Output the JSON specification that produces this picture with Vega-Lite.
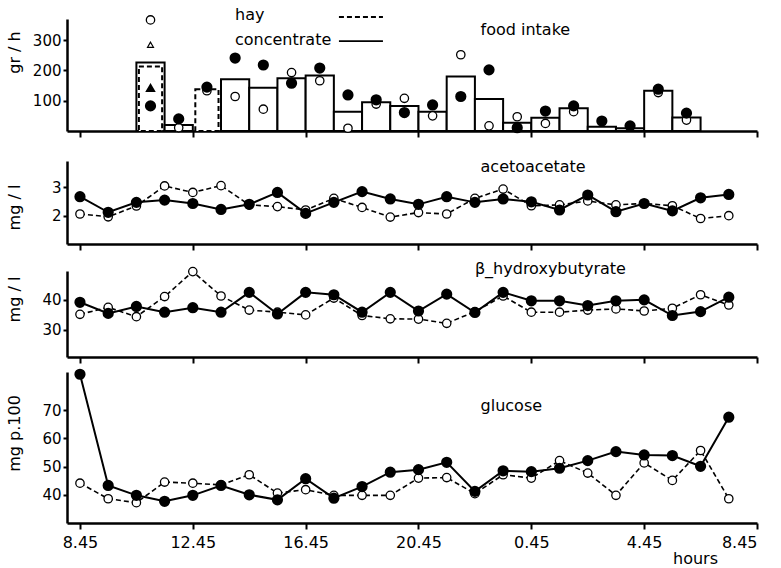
{
  "$schema": "https://vega.github.io/schema/vega-lite/v6.json",
  "padding": {"left": 6, "top": 7, "right": 5, "bottom": 5},
  "background": "white",
  "config": {
    "font": "DejaVu Sans",
    "view": {"stroke": null},
    "axis": {"domainColor": "black", "domainWidth": 2.5, "tickColor": "black", "tickWidth": 2, "grid": false, "labelColor": "black", "labelFont": "DejaVu Sans", "labelFontSize": 15, "titleColor": "black", "titleFont": "DejaVu Sans", "titleFontSize": 16, "titleFontWeight": "normal"},
    "axisX": {"tickSize": 6, "labels": false},
    "axisY": {"tickSize": 4, "labelPadding": 2, "titleAngle": 270, "titleX": -53, "titleAlign": "center", "titleBaseline": "middle"},
    "point": {"opacity": 1, "filled": true}
  },
  "datasets": {
    "intake": [
      {"feed": "concentrate", "start": 2, "end": 3, "value": 226},
      {"feed": "concentrate", "start": 3, "end": 4, "value": 20},
      {"feed": "concentrate", "start": 5, "end": 6, "value": 171},
      {"feed": "concentrate", "start": 6, "end": 7, "value": 143},
      {"feed": "concentrate", "start": 7, "end": 8, "value": 174},
      {"feed": "concentrate", "start": 8, "end": 9, "value": 183},
      {"feed": "concentrate", "start": 9, "end": 10, "value": 64},
      {"feed": "concentrate", "start": 10, "end": 11, "value": 95},
      {"feed": "concentrate", "start": 11, "end": 12, "value": 83},
      {"feed": "concentrate", "start": 12, "end": 13, "value": 64},
      {"feed": "concentrate", "start": 13, "end": 14, "value": 180},
      {"feed": "concentrate", "start": 14, "end": 15, "value": 106},
      {"feed": "concentrate", "start": 15, "end": 16, "value": 27},
      {"feed": "concentrate", "start": 16, "end": 17, "value": 44},
      {"feed": "concentrate", "start": 17, "end": 18, "value": 75},
      {"feed": "concentrate", "start": 18, "end": 19, "value": 14},
      {"feed": "concentrate", "start": 19, "end": 20, "value": 9},
      {"feed": "concentrate", "start": 20, "end": 21, "value": 133},
      {"feed": "concentrate", "start": 21, "end": 22, "value": 45},
      {"feed": "hay", "start": 2, "end": 3, "value": 213},
      {"feed": "hay", "start": 4, "end": 5, "value": 138}
    ],
    "intakePoints": [
      {"kind": "open", "time": 2.5, "value": 367},
      {"kind": "open", "time": 3.5, "value": 11},
      {"kind": "open", "time": 4.5, "value": 133},
      {"kind": "open", "time": 5.5, "value": 114},
      {"kind": "open", "time": 6.5, "value": 72},
      {"kind": "open", "time": 7.5, "value": 193},
      {"kind": "open", "time": 8.5, "value": 166},
      {"kind": "open", "time": 9.5, "value": 9},
      {"kind": "open", "time": 10.5, "value": 89},
      {"kind": "open", "time": 11.5, "value": 108},
      {"kind": "open", "time": 12.5, "value": 50},
      {"kind": "open", "time": 13.5, "value": 252},
      {"kind": "open", "time": 14.5, "value": 17},
      {"kind": "open", "time": 15.5, "value": 47},
      {"kind": "open", "time": 16.5, "value": 25},
      {"kind": "open", "time": 17.5, "value": 64},
      {"kind": "open", "time": 20.5, "value": 127},
      {"kind": "open", "time": 21.5, "value": 36},
      {"kind": "filled", "time": 2.5, "value": 83},
      {"kind": "filled", "time": 3.5, "value": 40},
      {"kind": "filled", "time": 4.5, "value": 145},
      {"kind": "filled", "time": 5.5, "value": 241},
      {"kind": "filled", "time": 6.5, "value": 218},
      {"kind": "filled", "time": 7.5, "value": 158},
      {"kind": "filled", "time": 8.5, "value": 208},
      {"kind": "filled", "time": 9.5, "value": 119},
      {"kind": "filled", "time": 10.5, "value": 103},
      {"kind": "filled", "time": 11.5, "value": 61},
      {"kind": "filled", "time": 12.5, "value": 86},
      {"kind": "filled", "time": 13.5, "value": 114},
      {"kind": "filled", "time": 14.5, "value": 202},
      {"kind": "filled", "time": 15.5, "value": 11},
      {"kind": "filled", "time": 16.5, "value": 66},
      {"kind": "filled", "time": 17.5, "value": 83},
      {"kind": "filled", "time": 18.5, "value": 33},
      {"kind": "filled", "time": 19.5, "value": 17},
      {"kind": "filled", "time": 20.5, "value": 138},
      {"kind": "filled", "time": 21.5, "value": 59},
      {"kind": "openTriangle", "time": 2.5, "value": 285},
      {"kind": "filledTriangle", "time": 2.5, "value": 142}
    ],
    "metab": [
      {"metric": "acetoacetate", "series": "filled", "hour": 0, "value": 2.67},
      {"metric": "acetoacetate", "series": "filled", "hour": 1, "value": 2.12},
      {"metric": "acetoacetate", "series": "filled", "hour": 2, "value": 2.47},
      {"metric": "acetoacetate", "series": "filled", "hour": 3, "value": 2.55},
      {"metric": "acetoacetate", "series": "filled", "hour": 4, "value": 2.43},
      {"metric": "acetoacetate", "series": "filled", "hour": 5, "value": 2.22},
      {"metric": "acetoacetate", "series": "filled", "hour": 6, "value": 2.4},
      {"metric": "acetoacetate", "series": "filled", "hour": 7, "value": 2.82},
      {"metric": "acetoacetate", "series": "filled", "hour": 8, "value": 2.08},
      {"metric": "acetoacetate", "series": "filled", "hour": 9, "value": 2.47},
      {"metric": "acetoacetate", "series": "filled", "hour": 10, "value": 2.85},
      {"metric": "acetoacetate", "series": "filled", "hour": 11, "value": 2.59},
      {"metric": "acetoacetate", "series": "filled", "hour": 12, "value": 2.4},
      {"metric": "acetoacetate", "series": "filled", "hour": 13, "value": 2.67},
      {"metric": "acetoacetate", "series": "filled", "hour": 14, "value": 2.47},
      {"metric": "acetoacetate", "series": "filled", "hour": 15, "value": 2.59},
      {"metric": "acetoacetate", "series": "filled", "hour": 16, "value": 2.49},
      {"metric": "acetoacetate", "series": "filled", "hour": 17, "value": 2.2},
      {"metric": "acetoacetate", "series": "filled", "hour": 18, "value": 2.73},
      {"metric": "acetoacetate", "series": "filled", "hour": 19, "value": 2.14},
      {"metric": "acetoacetate", "series": "filled", "hour": 20, "value": 2.43},
      {"metric": "acetoacetate", "series": "filled", "hour": 21, "value": 2.17},
      {"metric": "acetoacetate", "series": "filled", "hour": 22, "value": 2.63},
      {"metric": "acetoacetate", "series": "filled", "hour": 23, "value": 2.75},
      {"metric": "acetoacetate", "series": "open", "hour": 0, "value": 2.06},
      {"metric": "acetoacetate", "series": "open", "hour": 1, "value": 1.96},
      {"metric": "acetoacetate", "series": "open", "hour": 2, "value": 2.34},
      {"metric": "acetoacetate", "series": "open", "hour": 3, "value": 3.05},
      {"metric": "acetoacetate", "series": "open", "hour": 4, "value": 2.82},
      {"metric": "acetoacetate", "series": "open", "hour": 5, "value": 3.06},
      {"metric": "acetoacetate", "series": "open", "hour": 6, "value": 2.38},
      {"metric": "acetoacetate", "series": "open", "hour": 7, "value": 2.32},
      {"metric": "acetoacetate", "series": "open", "hour": 8, "value": 2.2},
      {"metric": "acetoacetate", "series": "open", "hour": 9, "value": 2.61},
      {"metric": "acetoacetate", "series": "open", "hour": 10, "value": 2.29},
      {"metric": "acetoacetate", "series": "open", "hour": 11, "value": 1.95},
      {"metric": "acetoacetate", "series": "open", "hour": 12, "value": 2.11},
      {"metric": "acetoacetate", "series": "open", "hour": 13, "value": 2.06},
      {"metric": "acetoacetate", "series": "open", "hour": 14, "value": 2.61},
      {"metric": "acetoacetate", "series": "open", "hour": 15, "value": 2.94},
      {"metric": "acetoacetate", "series": "open", "hour": 16, "value": 2.35},
      {"metric": "acetoacetate", "series": "open", "hour": 17, "value": 2.38},
      {"metric": "acetoacetate", "series": "open", "hour": 18, "value": 2.52},
      {"metric": "acetoacetate", "series": "open", "hour": 19, "value": 2.38},
      {"metric": "acetoacetate", "series": "open", "hour": 20, "value": 2.43},
      {"metric": "acetoacetate", "series": "open", "hour": 21, "value": 2.35},
      {"metric": "acetoacetate", "series": "open", "hour": 22, "value": 1.9},
      {"metric": "acetoacetate", "series": "open", "hour": 23, "value": 2.0},
      {"metric": "hydroxybutyrate", "series": "filled", "hour": 0, "value": 39.2},
      {"metric": "hydroxybutyrate", "series": "filled", "hour": 1, "value": 35.5},
      {"metric": "hydroxybutyrate", "series": "filled", "hour": 2, "value": 37.8},
      {"metric": "hydroxybutyrate", "series": "filled", "hour": 3, "value": 35.9},
      {"metric": "hydroxybutyrate", "series": "filled", "hour": 4, "value": 37.4},
      {"metric": "hydroxybutyrate", "series": "filled", "hour": 5, "value": 35.9},
      {"metric": "hydroxybutyrate", "series": "filled", "hour": 6, "value": 42.5},
      {"metric": "hydroxybutyrate", "series": "filled", "hour": 7, "value": 35.3},
      {"metric": "hydroxybutyrate", "series": "filled", "hour": 8, "value": 42.5},
      {"metric": "hydroxybutyrate", "series": "filled", "hour": 9, "value": 41.7},
      {"metric": "hydroxybutyrate", "series": "filled", "hour": 10, "value": 35.9},
      {"metric": "hydroxybutyrate", "series": "filled", "hour": 11, "value": 42.5},
      {"metric": "hydroxybutyrate", "series": "filled", "hour": 12, "value": 36.3},
      {"metric": "hydroxybutyrate", "series": "filled", "hour": 13, "value": 41.9},
      {"metric": "hydroxybutyrate", "series": "filled", "hour": 14, "value": 35.8},
      {"metric": "hydroxybutyrate", "series": "filled", "hour": 15, "value": 42.5},
      {"metric": "hydroxybutyrate", "series": "filled", "hour": 16, "value": 39.7},
      {"metric": "hydroxybutyrate", "series": "filled", "hour": 17, "value": 39.7},
      {"metric": "hydroxybutyrate", "series": "filled", "hour": 18, "value": 38.1},
      {"metric": "hydroxybutyrate", "series": "filled", "hour": 19, "value": 39.7},
      {"metric": "hydroxybutyrate", "series": "filled", "hour": 20, "value": 40.0},
      {"metric": "hydroxybutyrate", "series": "filled", "hour": 21, "value": 34.8},
      {"metric": "hydroxybutyrate", "series": "filled", "hour": 22, "value": 36.1},
      {"metric": "hydroxybutyrate", "series": "filled", "hour": 23, "value": 40.9},
      {"metric": "hydroxybutyrate", "series": "open", "hour": 0, "value": 35.2},
      {"metric": "hydroxybutyrate", "series": "open", "hour": 1, "value": 37.5},
      {"metric": "hydroxybutyrate", "series": "open", "hour": 2, "value": 34.4},
      {"metric": "hydroxybutyrate", "series": "open", "hour": 3, "value": 41.1},
      {"metric": "hydroxybutyrate", "series": "open", "hour": 4, "value": 49.4},
      {"metric": "hydroxybutyrate", "series": "open", "hour": 5, "value": 41.3},
      {"metric": "hydroxybutyrate", "series": "open", "hour": 6, "value": 36.6},
      {"metric": "hydroxybutyrate", "series": "open", "hour": 7, "value": 35.9},
      {"metric": "hydroxybutyrate", "series": "open", "hour": 8, "value": 35.0},
      {"metric": "hydroxybutyrate", "series": "open", "hour": 9, "value": 40.6},
      {"metric": "hydroxybutyrate", "series": "open", "hour": 10, "value": 34.8},
      {"metric": "hydroxybutyrate", "series": "open", "hour": 11, "value": 33.7},
      {"metric": "hydroxybutyrate", "series": "open", "hour": 12, "value": 33.6},
      {"metric": "hydroxybutyrate", "series": "open", "hour": 13, "value": 32.2},
      {"metric": "hydroxybutyrate", "series": "open", "hour": 14, "value": 36.1},
      {"metric": "hydroxybutyrate", "series": "open", "hour": 15, "value": 41.3},
      {"metric": "hydroxybutyrate", "series": "open", "hour": 16, "value": 35.9},
      {"metric": "hydroxybutyrate", "series": "open", "hour": 17, "value": 35.9},
      {"metric": "hydroxybutyrate", "series": "open", "hour": 18, "value": 36.6},
      {"metric": "hydroxybutyrate", "series": "open", "hour": 19, "value": 37.0},
      {"metric": "hydroxybutyrate", "series": "open", "hour": 20, "value": 36.3},
      {"metric": "hydroxybutyrate", "series": "open", "hour": 21, "value": 37.2},
      {"metric": "hydroxybutyrate", "series": "open", "hour": 22, "value": 41.7},
      {"metric": "hydroxybutyrate", "series": "open", "hour": 23, "value": 38.3},
      {"metric": "glucose", "series": "filled", "hour": 0, "value": 82.7},
      {"metric": "glucose", "series": "filled", "hour": 1, "value": 43.3},
      {"metric": "glucose", "series": "filled", "hour": 2, "value": 39.8},
      {"metric": "glucose", "series": "filled", "hour": 3, "value": 37.7},
      {"metric": "glucose", "series": "filled", "hour": 4, "value": 39.8},
      {"metric": "glucose", "series": "filled", "hour": 5, "value": 43.3},
      {"metric": "glucose", "series": "filled", "hour": 6, "value": 40.0},
      {"metric": "glucose", "series": "filled", "hour": 7, "value": 38.2},
      {"metric": "glucose", "series": "filled", "hour": 8, "value": 45.7},
      {"metric": "glucose", "series": "filled", "hour": 9, "value": 38.8},
      {"metric": "glucose", "series": "filled", "hour": 10, "value": 42.9},
      {"metric": "glucose", "series": "filled", "hour": 11, "value": 48.0},
      {"metric": "glucose", "series": "filled", "hour": 12, "value": 48.9},
      {"metric": "glucose", "series": "filled", "hour": 13, "value": 51.5},
      {"metric": "glucose", "series": "filled", "hour": 14, "value": 41.2},
      {"metric": "glucose", "series": "filled", "hour": 15, "value": 48.5},
      {"metric": "glucose", "series": "filled", "hour": 16, "value": 48.2},
      {"metric": "glucose", "series": "filled", "hour": 17, "value": 49.4},
      {"metric": "glucose", "series": "filled", "hour": 18, "value": 52.1},
      {"metric": "glucose", "series": "filled", "hour": 19, "value": 55.3},
      {"metric": "glucose", "series": "filled", "hour": 20, "value": 54.1},
      {"metric": "glucose", "series": "filled", "hour": 21, "value": 53.9},
      {"metric": "glucose", "series": "filled", "hour": 22, "value": 50.1},
      {"metric": "glucose", "series": "filled", "hour": 23, "value": 67.5},
      {"metric": "glucose", "series": "open", "hour": 0, "value": 44.1},
      {"metric": "glucose", "series": "open", "hour": 1, "value": 38.6},
      {"metric": "glucose", "series": "open", "hour": 2, "value": 37.2},
      {"metric": "glucose", "series": "open", "hour": 3, "value": 44.5},
      {"metric": "glucose", "series": "open", "hour": 4, "value": 44.1},
      {"metric": "glucose", "series": "open", "hour": 5, "value": 43.5},
      {"metric": "glucose", "series": "open", "hour": 6, "value": 47.1},
      {"metric": "glucose", "series": "open", "hour": 7, "value": 40.6},
      {"metric": "glucose", "series": "open", "hour": 8, "value": 41.8},
      {"metric": "glucose", "series": "open", "hour": 9, "value": 39.8},
      {"metric": "glucose", "series": "open", "hour": 10, "value": 39.8},
      {"metric": "glucose", "series": "open", "hour": 11, "value": 39.8},
      {"metric": "glucose", "series": "open", "hour": 12, "value": 45.9},
      {"metric": "glucose", "series": "open", "hour": 13, "value": 46.1},
      {"metric": "glucose", "series": "open", "hour": 14, "value": 40.4},
      {"metric": "glucose", "series": "open", "hour": 15, "value": 47.1},
      {"metric": "glucose", "series": "open", "hour": 16, "value": 45.9},
      {"metric": "glucose", "series": "open", "hour": 17, "value": 52.1},
      {"metric": "glucose", "series": "open", "hour": 18, "value": 47.7},
      {"metric": "glucose", "series": "open", "hour": 19, "value": 39.8},
      {"metric": "glucose", "series": "open", "hour": 20, "value": 51.3},
      {"metric": "glucose", "series": "open", "hour": 21, "value": 45.1},
      {"metric": "glucose", "series": "open", "hour": 22, "value": 55.7},
      {"metric": "glucose", "series": "open", "hour": 23, "value": 38.6}
    ]
  },
  "spacing": 1,
  "vconcat": [
    {
      "width": 690,
      "height": 112,
      "layer": [
        {
          "data": {"name": "intake"},
          "transform": [{"filter": "datum.feed === 'concentrate'"}],
          "mark": {"type": "bar", "fill": "white", "stroke": "black", "strokeWidth": 2},
          "encoding": {
            "x": {"field": "start", "type": "quantitative", "scale": {"domain": [-0.46, 24], "nice": false, "zero": false}, "axis": {"values": [0, 4, 8, 12, 16, 20, 24], "title": " ", "titleFontSize": 19, "titlePadding": 0}},
            "x2": {"field": "end"},
            "y": {"field": "value", "type": "quantitative", "scale": {"domain": [0, 370], "nice": false}, "axis": {"values": [100, 200, 300], "title": "gr / h", "titleY": 33}},
            "y2": {"datum": 0},
            "strokeDash": {"field": "feed", "type": "nominal", "scale": {"domain": ["hay", "concentrate"], "range": [[5, 3], [1, 0]]},
              "legend": {"orient": "none", "legendX": 41, "legendY": -12, "title": null, "padding": 0, "symbolType": "M-5.5,0H5.5", "symbolSize": 64, "symbolStrokeColor": "black", "symbolFillColor": "transparent", "symbolStrokeWidth": 1.6, "labelFont": "DejaVu Sans", "labelFontSize": 16, "labelColor": "black", "labelOffset": -10, "symbolOffset": 121, "rowPadding": 9,
                "encode": {"symbols": {"update": {"opacity": {"value": 0}}}}}}
          }
        },
        {
          "data": {"name": "intake"},
          "transform": [{"filter": "datum.feed === 'hay'"}],
          "mark": {"type": "bar", "fill": "white", "stroke": "black", "strokeWidth": 2, "xOffset": 2.5, "x2Offset": -2.5},
          "encoding": {
            "x": {"field": "start", "type": "quantitative"},
            "x2": {"field": "end"},
            "y": {"field": "value", "type": "quantitative"},
            "y2": {"datum": 0},
            "strokeDash": {"field": "feed", "type": "nominal"}
          }
        },
        {
          "data": {"name": "intakePoints"},
          "transform": [{"filter": "datum.kind === 'open'"}],
          "mark": {"type": "point", "shape": "circle", "fill": "white", "stroke": "black", "strokeWidth": 1.3, "size": 70},
          "encoding": {"x": {"field": "time", "type": "quantitative"}, "y": {"field": "value", "type": "quantitative"}}
        },
        {
          "data": {"name": "intakePoints"},
          "transform": [{"filter": "datum.kind === 'filled'"}],
          "mark": {"type": "point", "shape": "circle", "fill": "black", "stroke": "black", "size": 85},
          "encoding": {"x": {"field": "time", "type": "quantitative"}, "y": {"field": "value", "type": "quantitative"}}
        },
        {
          "data": {"name": "intakePoints"},
          "transform": [{"filter": "datum.kind === 'openTriangle'"}],
          "mark": {"type": "point", "shape": "triangle-up", "fill": "white", "stroke": "black", "strokeWidth": 1.2, "size": 35},
          "encoding": {"x": {"field": "time", "type": "quantitative"}, "y": {"field": "value", "type": "quantitative"}}
        },
        {
          "data": {"name": "intakePoints"},
          "transform": [{"filter": "datum.kind === 'filledTriangle'"}],
          "mark": {"type": "point", "shape": "triangle-up", "fill": "black", "stroke": "black", "size": 50},
          "encoding": {"x": {"field": "time", "type": "quantitative"}, "y": {"field": "value", "type": "quantitative"}}
        },
        {
          "data": {"values": [{}]},
          "mark": {"type": "rule", "color": "black", "strokeWidth": 1.8, "strokeDash": [5, 3], "clip": false},
          "encoding": {"x": {"datum": 9.18}, "x2": {"datum": 10.74}, "y": {"datum": 376.6}}
        },
        {
          "data": {"values": [{}]},
          "mark": {"type": "rule", "color": "black", "strokeWidth": 1.8, "clip": false},
          "encoding": {"x": {"datum": 9.18}, "x2": {"datum": 10.74}, "y": {"datum": 297}}
        },
        {
          "data": {"values": [{}]},
          "mark": {"type": "text", "text": "food intake", "align": "left", "baseline": "middle", "fontSize": 16, "font": "DejaVu Sans", "color": "black"},
          "encoding": {"x": {"datum": 14.2}, "y": {"datum": 333}}
        }
      ]
    },
    {
      "width": 690,
      "height": 83,
      "layer": [
        {"data": {"name": "metab"}, "transform": [{"filter": "datum.metric === 'acetoacetate' && datum.series === 'open'"}],
         "mark": {"type": "line", "color": "black", "strokeWidth": 1.6, "strokeDash": [5, 3]},
         "encoding": {
           "x": {"field": "hour", "type": "quantitative", "scale": {"domain": [-0.46, 24], "nice": false, "zero": false}, "axis": {"values": [0, 4, 8, 12, 16, 20, 24], "title": " ", "titleFontSize": 9, "titlePadding": 0}},
           "y": {"field": "value", "type": "quantitative", "scale": {"domain": [1, 3.93], "nice": false, "zero": false}, "axis": {"values": [2, 3], "title": "mg / l", "titleY": 46}}
         }},
        {"data": {"name": "metab"}, "transform": [{"filter": "datum.metric === 'acetoacetate' && datum.series === 'filled'"}],
         "mark": {"type": "line", "color": "black", "strokeWidth": 2},
         "encoding": {"x": {"field": "hour", "type": "quantitative"}, "y": {"field": "value", "type": "quantitative"}}},
        {"data": {"name": "metab"}, "transform": [{"filter": "datum.metric === 'acetoacetate' && datum.series === 'open'"}],
         "mark": {"type": "point", "shape": "circle", "fill": "white", "stroke": "black", "strokeWidth": 1.3, "size": 70},
         "encoding": {"x": {"field": "hour", "type": "quantitative"}, "y": {"field": "value", "type": "quantitative"}}},
        {"data": {"name": "metab"}, "transform": [{"filter": "datum.metric === 'acetoacetate' && datum.series === 'filled'"}],
         "mark": {"type": "point", "shape": "circle", "fill": "black", "stroke": "black", "size": 85},
         "encoding": {"x": {"field": "hour", "type": "quantitative"}, "y": {"field": "value", "type": "quantitative"}}},
        {
          "data": {"values": [{}]},
          "mark": {"type": "text", "text": "acetoacetate", "align": "left", "baseline": "middle", "fontSize": 16, "font": "DejaVu Sans", "color": "black"},
          "encoding": {"x": {"datum": 14.2}, "y": {"datum": 3.73}}
        }
      ]
    },
    {
      "width": 690,
      "height": 86,
      "layer": [
        {"data": {"name": "metab"}, "transform": [{"filter": "datum.metric === 'hydroxybutyrate' && datum.series === 'open'"}],
         "mark": {"type": "line", "color": "black", "strokeWidth": 1.6, "strokeDash": [5, 3]},
         "encoding": {
           "x": {"field": "hour", "type": "quantitative", "scale": {"domain": [-0.46, 24], "nice": false, "zero": false}, "axis": {"values": [0, 4, 8, 12, 16, 20, 24], "title": null}},
           "y": {"field": "value", "type": "quantitative", "scale": {"domain": [21, 49.6], "nice": false, "zero": false}, "axis": {"values": [30, 40], "title": "mg / l", "titleY": 28}}
         }},
        {"data": {"name": "metab"}, "transform": [{"filter": "datum.metric === 'hydroxybutyrate' && datum.series === 'filled'"}],
         "mark": {"type": "line", "color": "black", "strokeWidth": 2},
         "encoding": {"x": {"field": "hour", "type": "quantitative"}, "y": {"field": "value", "type": "quantitative"}}},
        {"data": {"name": "metab"}, "transform": [{"filter": "datum.metric === 'hydroxybutyrate' && datum.series === 'open'"}],
         "mark": {"type": "point", "shape": "circle", "fill": "white", "stroke": "black", "strokeWidth": 1.3, "size": 70},
         "encoding": {"x": {"field": "hour", "type": "quantitative"}, "y": {"field": "value", "type": "quantitative"}}},
        {"data": {"name": "metab"}, "transform": [{"filter": "datum.metric === 'hydroxybutyrate' && datum.series === 'filled'"}],
         "mark": {"type": "point", "shape": "circle", "fill": "black", "stroke": "black", "size": 85},
         "encoding": {"x": {"field": "hour", "type": "quantitative"}, "y": {"field": "value", "type": "quantitative"}}},
        {
          "data": {"values": [{}]},
          "mark": {"type": "text", "text": "β_hydroxybutyrate", "align": "left", "baseline": "middle", "fontSize": 16, "font": "DejaVu Sans", "color": "black"},
          "encoding": {"x": {"datum": 14.0}, "y": {"datum": 50.2}}
        }
      ]
    },
    {
      "width": 690,
      "height": 151,
      "layer": [
        {"data": {"name": "metab"}, "transform": [{"filter": "datum.metric === 'glucose' && datum.series === 'open'"}],
         "mark": {"type": "line", "color": "black", "strokeWidth": 1.6, "strokeDash": [5, 3]},
         "encoding": {
           "x": {"field": "hour", "type": "quantitative", "scale": {"domain": [-0.46, 24], "nice": false, "zero": false},
             "axis": {"values": [0, 4, 8, 12, 16, 20, 24], "labels": true, "labelExpr": "['8.45','12.45','16.45','20.45','0.45','4.45','8.45'][round(datum.value/4)]", "labelFontSize": 16, "labelPadding": 5, "title": "hours", "titleX": 628, "titleY": 35, "titleAlign": "center", "titleBaseline": "middle", "titleFontSize": 16}},
           "y": {"field": "value", "type": "quantitative", "scale": {"domain": [30, 83.5], "nice": false, "zero": false}, "axis": {"values": [40, 50, 60, 70], "title": "mg p.100", "titleY": 61}}
         }},
        {"data": {"name": "metab"}, "transform": [{"filter": "datum.metric === 'glucose' && datum.series === 'filled'"}],
         "mark": {"type": "line", "color": "black", "strokeWidth": 2},
         "encoding": {"x": {"field": "hour", "type": "quantitative"}, "y": {"field": "value", "type": "quantitative"}}},
        {"data": {"name": "metab"}, "transform": [{"filter": "datum.metric === 'glucose' && datum.series === 'open'"}],
         "mark": {"type": "point", "shape": "circle", "fill": "white", "stroke": "black", "strokeWidth": 1.3, "size": 70},
         "encoding": {"x": {"field": "hour", "type": "quantitative"}, "y": {"field": "value", "type": "quantitative"}}},
        {"data": {"name": "metab"}, "transform": [{"filter": "datum.metric === 'glucose' && datum.series === 'filled'"}],
         "mark": {"type": "point", "shape": "circle", "fill": "black", "stroke": "black", "size": 85},
         "encoding": {"x": {"field": "hour", "type": "quantitative"}, "y": {"field": "value", "type": "quantitative"}}},
        {
          "data": {"values": [{}]},
          "mark": {"type": "text", "text": "glucose", "align": "left", "baseline": "middle", "fontSize": 16, "font": "DejaVu Sans", "color": "black"},
          "encoding": {"x": {"datum": 14.2}, "y": {"datum": 71.4}}
        }
      ]
    }
  ]
}
